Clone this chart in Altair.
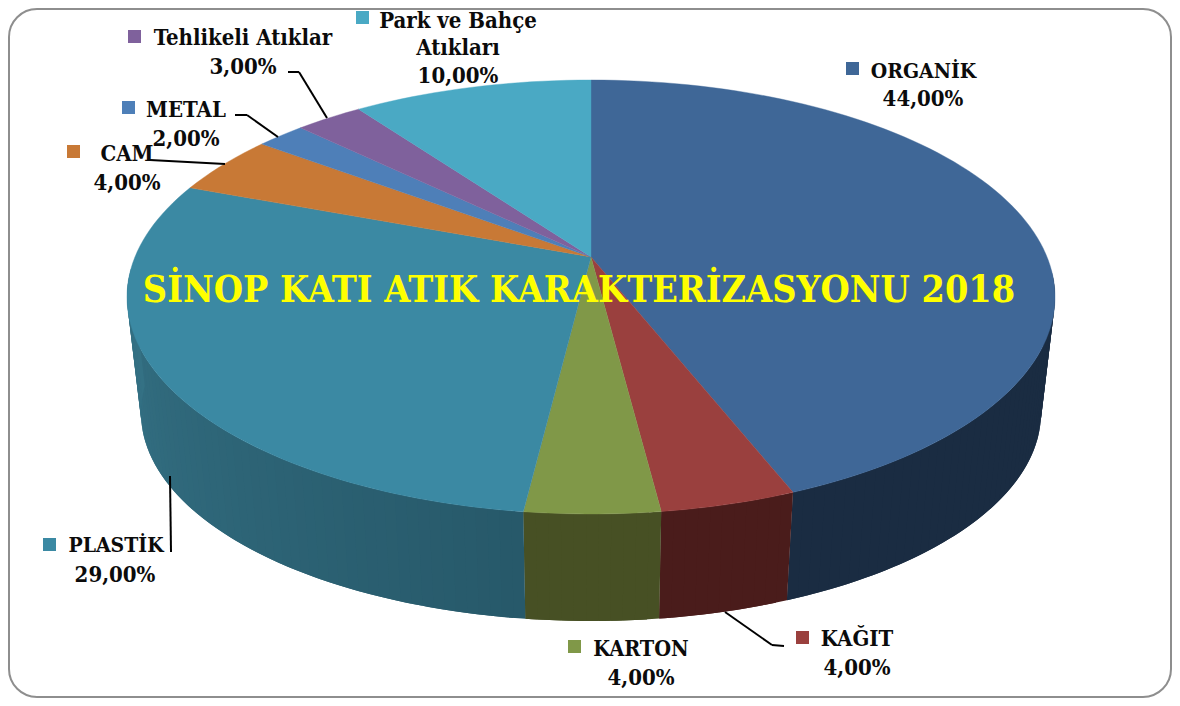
import math
import altair as alt
import pandas as pd

# ---- chart content ----
names = ["ORGANİK", "KAĞIT", "KARTON", "PLASTİK", "CAM", "METAL", "Tehlikeli Atıklar", "Park ve Bahçe Atıkları"]
printed = ["44,00%", "4,00%", "4,00%", "29,00%", "4,00%", "2,00%", "3,00%", "10,00%"]
# shares of the ellipse as actually drawn (percent of sweep, clockwise from 12 o'clock)
drawn = [42.83, 4.75, 4.75, 31.06, 4.06, 1.78, 2.42, 8.35]
top_colors = ["#3F6797", "#9A403E", "#809848", "#3B89A3", "#C87936", "#4E7FB8", "#7F619C", "#4AA9C4"]
wall_near = ["#1A2C42", "#4A1C1B", "#475024", "#27596A", "#7A4A20", "#2F4D70", "#4D3B5F", "#2D6677"]
wall_far = ["#1A2C42", "#4A1C1B", "#475024", "#38788C", "#7A4A20", "#2F4D70", "#4D3B5F", "#2D6677"]
title_text = "SİNOP KATI ATIK KARAKTERİZASYONU 2018"

# ---- layout (page pixels, shifted by the 8px page margin) ----
M = 8
APEX = (591, 257)
TOP = dict(cx=591, cy=297, rx=464, ry=217)
BOT = dict(cx=591, cy=413, rx=450, ry=208)
FONT = "DejaVu Serif Condensed"

label_lines = [
    ("ORGANİK", 923.5, 78, 21), ("44,00%", 923, 106, 22),
    ("KAĞIT", 857, 646, 22), ("4,00%", 857, 675, 22),
    ("KARTON", 641, 656, 21.5), ("4,00%", 641, 685, 22),
    ("PLASTİK", 116, 552, 21), ("29,00%", 115, 582, 22),
    ("CAM", 127, 161, 22), ("4,00%", 127, 190, 22),
    ("METAL", 186, 117, 22), ("2,00%", 186, 146, 22),
    ("Tehlikeli Atıklar", 243, 45, 22), ("3,00%", 243, 74, 22),
    ("Park ve Bahçe", 458, 28, 22), ("Atıkları", 458, 55, 22), ("10,00%", 458, 83, 22),
]
key_pos = [(846, 62), (796, 631), (568, 640), (43, 538), (67, 145), (122, 101), (128, 30), (356, 11)]
leaders = [
    (288, 72, 299, 72), (299, 72, 327, 118),
    (235, 115, 247, 115), (247, 115, 278, 137),
    (150, 160, 225, 164),
    (171, 552, 170, 476),
    (725, 612, 772, 645), (772, 645, 784, 646),
]


def pt(e, t):
    a = math.radians(t)
    return [e["cx"] + e["rx"] * math.sin(a) - M, e["cy"] - e["ry"] * math.cos(a) - M]


def mix(c1, c2, f):
    a = [int(c1[i:i + 2], 16) for i in (1, 3, 5)]
    b = [int(c2[i:i + 2], 16) for i in (1, 3, 5)]
    return "#%02x%02x%02x" % tuple(round(x + (y - x) * f) for x, y in zip(a, b))


def feature(ring, color):
    ring = ring + [ring[0]]
    return {"type": "Feature", "properties": {"c": color},
            "geometry": {"type": "Polygon", "coordinates": [ring]}}


walls, tops = [], []
start = 0.0
for share, top_c, near, far in zip(drawn, top_colors, wall_near, wall_far):
    end = start + share * 3.6
    n = max(2, int((end - start) / 1.5))
    step = (end - start) / n
    steps = [start + step * i for i in range(n + 1)]
    # top face: apex + arc
    tops.append(feature([[APEX[0] - M, APEX[1] - M]] + [pt(TOP, t) for t in steps], top_c))
    # visible wall: lower half only; each strip runs under the next one so no seams show
    for i in range(n):
        a, b = steps[i], steps[i + 1]
        if b <= 84 or a >= 276:
            continue
        f = (a - start) / (end - start)
        c = min(b + step, end)
        walls.append(feature([pt(TOP, a), pt(TOP, (b + c) / 2), pt(TOP, c), pt(BOT, c), pt(BOT, (b + c) / 2), pt(BOT, a)],
                             mix(near, far, f)))
    start = end


def shapes(features, sw):
    return alt.Chart(alt.Data(values=features)).mark_geoshape(strokeWidth=sw).encode(
        fill=alt.Color("properties.c:N", scale=None, legend=None),
        stroke=alt.Color("properties.c:N", scale=None, legend=None),
    ).project(type="identity", scale=1, translate=[0, 0])


X = lambda f: alt.X(f, type="quantitative", scale=None, axis=None)
Y = lambda f: alt.Y(f, type="quantitative", scale=None, axis=None)

frame = alt.Chart(pd.DataFrame([dict(x=1, x2=1163, y=1, y2=689)])).mark_rect(
    fill="white", stroke="#8E8E8E", strokeWidth=2, cornerRadius=28
).encode(x=X("x"), x2="x2", y=Y("y"), y2="y2")

line_df = pd.DataFrame([dict(t=t, x=x - M, y=y - M, s=s) for t, x, y, s in label_lines])
text = alt.Chart(line_df).mark_text(
    font=FONT, fontWeight="bold", color="#0B0B0B", align="center", baseline="alphabetic"
).encode(x=X("x"), y=Y("y"), text="t:N", size=alt.Size("s:Q", scale=None, legend=None))

key_df = pd.DataFrame([dict(x=x - M, x2=x - M + 13, y=y - M, y2=y - M + 13, c=c)
                       for (x, y), c in zip(key_pos, top_colors)])
keys = alt.Chart(key_df).mark_rect().encode(
    x=X("x"), x2="x2", y=Y("y"), y2="y2", fill=alt.Color("c:N", scale=None, legend=None))

lead_df = pd.DataFrame([dict(x=a - M, y=b - M, x2=c - M, y2=d - M) for a, b, c, d in leaders])
lead = alt.Chart(lead_df).mark_rule(color="black", strokeWidth=2).encode(
    x=X("x"), x2="x2", y=Y("y"), y2="y2")

title_df = pd.DataFrame([dict(t=title_text, x=579 - M, y=302 - M)])
title = alt.Chart(title_df).mark_text(
    font=FONT, fontWeight="bold", fontSize=37.4, color="#FFFF00", align="center", baseline="alphabetic"
).encode(x=X("x"), y=Y("y"), text="t:N")

chart = alt.layer(frame, shapes(walls, 0), shapes(tops, 0.4), lead, keys, text, title).properties(
    width=1164, height=690, padding=0, autosize=alt.AutoSizeParams(type="none")
).configure_view(stroke=None)

chart.save("out.html", embed_options={"renderer": "svg", "actions": False})
